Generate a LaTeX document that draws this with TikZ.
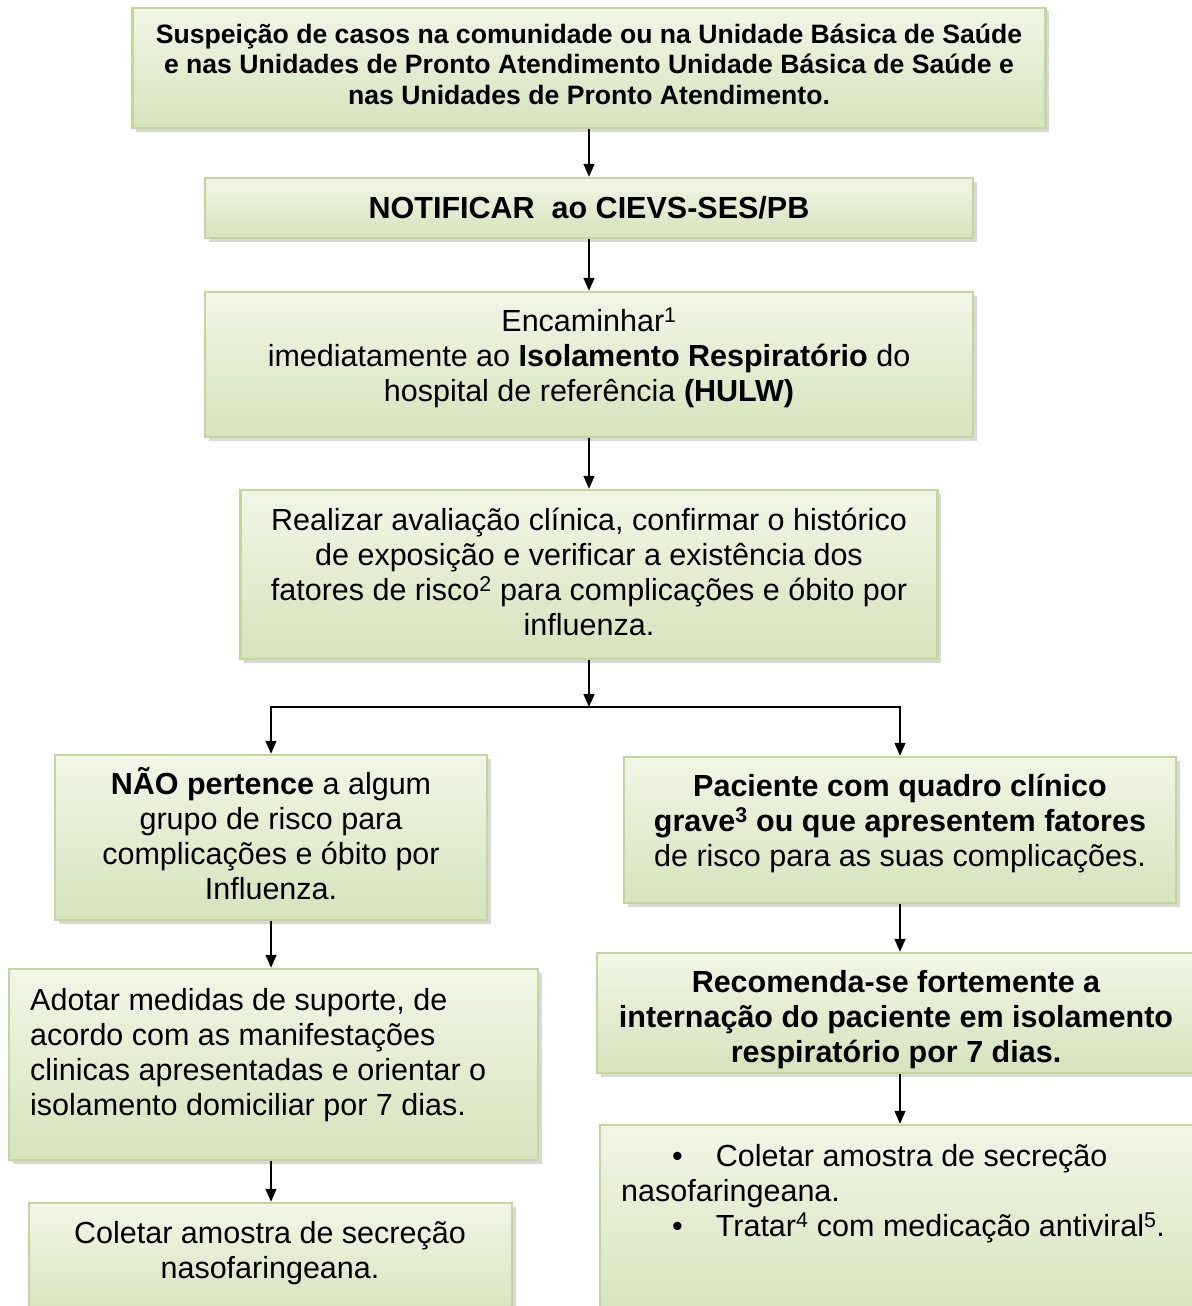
\documentclass[tikz,border=0pt]{standalone}
\usepackage{fontspec}
\setmainfont{Liberation Sans}
\usetikzlibrary{shadows,arrows.meta}
\definecolor{borda}{HTML}{C3D69B}
\definecolor{claro}{HTML}{F1F6E7}
\definecolor{escuro}{HTML}{D6E3BC}
\begin{document}
\begin{tikzpicture}[x=1pt,y=1pt,>={Triangle[length=13pt,width=11pt]},
	caixa/.style={draw=borda,line width=2.5pt,top color=claro,bottom color=escuro,inner sep=0pt,
		drop shadow={shadow xshift=3.5pt,shadow yshift=-3.5pt,fill=gray!60}},
	texto/.style={align=center,inner sep=0pt,font=\fontsize{30.5}{35}\selectfont},
	seta/.style={->,line width=1.5pt}]
				\useasboundingbox (0,0) rectangle (1191,-1306);
				\node[caixa,minimum width=913pt,minimum height=120pt] (suspeita) at (589,-68) {};
				\node[caixa,minimum width=768pt,minimum height=60pt] (notificar) at (589,-208) {};
				\node[caixa,minimum width=768pt,minimum height=145pt] (encaminhar) at (589,-364.5) {};
				\node[caixa,minimum width=697pt,minimum height=169pt] (avaliar) at (589,-574.5) {};
				\node[caixa,minimum width=432pt,minimum height=165pt] (naorisco) at (271,-837.5) {};
				\node[caixa,minimum width=552pt,minimum height=146pt] (grave) at (900,-830) {};
				\node[caixa,minimum width=529pt,minimum height=191pt] (suporte) at (273.5,-1064.5) {};
				\node[caixa,minimum width=483pt,minimum height=115pt] (coletar) at (270.5,-1260.5) {};
				\node[caixa,minimum width=596pt,minimum height=120pt] (internar) at (895,-1013) {};
				\node[caixa,minimum width=593pt,minimum height=195pt] (tratar) at (896.5,-1222.5) {};
				\coordinate (ramo) at (589,-707);
				\node[texto,font=\bfseries\fontsize{26.6}{30.6}\selectfont] (tsuspeita) at (589,-64) {Suspeição de casos na comunidade ou na Unidade Básica de Saúde\\ e nas Unidades de Pronto Atendimento Unidade Básica de Saúde e\\ nas Unidades de Pronto Atendimento.};
				\node[texto,font=\bfseries\fontsize{30.5}{35}\selectfont] (tnotificar) at (589,-208) {NOTIFICAR\ \ ao CIEVS-SES/PB};
				\node[texto] (tencaminhar) at (589,-358) {Encaminhar\textsuperscript{1}\\ imediatamente ao \textbf{Isolamento Respiratório} do\\ hospital de referência \textbf{(HULW)}};
				\node[texto] (tavaliar) at (589,-572) {Realizar avaliação clínica, confirmar o histórico\\ de exposição e verificar a existência dos\\ fatores de risco\textsuperscript{2} para complicações e óbito por\\ influenza.};
				\node[texto] (tnaorisco) at (271,-834) {\textbf{NÃO pertence} a algum\\ grupo de risco para\\ complicações e óbito por\\ Influenza.};
				\node[texto] (tgrave) at (900,-824) {\textbf{Paciente com quadro clínico}\\ \textbf{grave\textsuperscript{3} ou que apresentem fatores}\\ de risco para as suas complicações.};
				\node[texto,align=left,anchor=west] (tsuporte) at (30,-1055) {Adotar medidas de suporte, de\\ acordo com as manifestações\\ clinicas apresentadas e orientar o\\ isolamento domiciliar por 7 dias.};
				\node[texto] (tcoletar) at (270,-1253) {Coletar amostra de secreção\\ nasofaringeana.};
				\node[texto,font=\bfseries\fontsize{30.5}{35}\selectfont] (tinternar) at (896,-1020) {Recomenda-se fortemente a\\ internação do paciente em isolamento\\ respiratório por 7 dias.};
				\node[texto,align=left,anchor=west] (ttratar) at (621,-1194) {\hspace*{51pt}\textbullet\hspace{33pt}Coletar amostra de secreção\\ nasofaringeana.\\ \hspace*{51pt}\textbullet\hspace{33pt}Tratar\textsuperscript{4} com medicação antiviral\textsuperscript{5}.};
				\draw[seta] (suspeita) -- (notificar);
				\draw[seta] (notificar) -- (encaminhar);
				\draw[seta] (encaminhar) -- (avaliar);
				\draw[seta] (avaliar) -- (ramo);
				\draw[seta] (ramo) -| (naorisco);
				\draw[seta] (ramo) -| (grave);
				\draw[seta] (naorisco) -- (naorisco |- suporte.north);
				\draw[seta] (suporte.south -| naorisco) -- (naorisco |- coletar.north);
				\draw[seta] (grave) -- (grave |- internar.north);
				\draw[seta] (grave |- internar.south) -- (grave |- tratar.north);
			\end{tikzpicture}
\end{document}
